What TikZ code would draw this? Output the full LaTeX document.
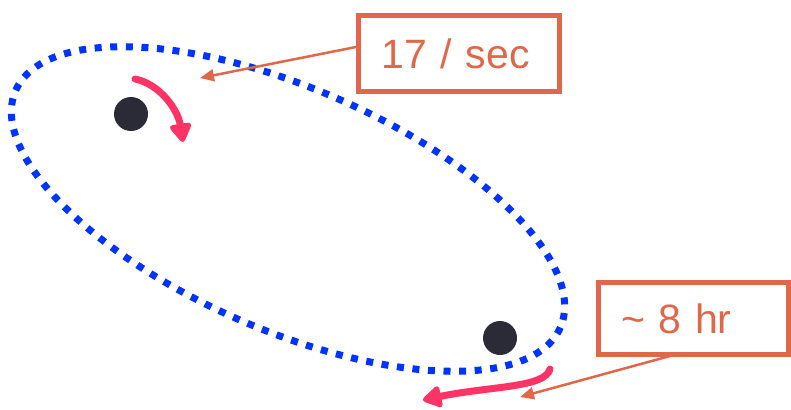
\documentclass[tikz,border=0pt]{standalone}
\usepackage{fontspec}
\setmainfont{Liberation Sans}
\usetikzlibrary{arrows.meta}
\definecolor{orbitblue}{HTML}{0033FF}
\definecolor{spinpink}{HTML}{FF3366}
\definecolor{notered}{HTML}{E0684A}
\definecolor{bodydark}{HTML}{2A2B36}
\tikzset{
  orbit/.style={orbitblue, line width=7pt, dash pattern=on 7pt off 8.6pt},
  body/.style={circle, fill=bodydark, minimum size=34pt, inner sep=0pt},
  spin/.style={spinpink, line width=7pt, line cap=round,
    -{Triangle[width=24pt,length=21pt,round]}},
  notebox/.style={draw=notered, line width=5pt, text=notered, inner ysep=0pt,
    align=left, font=\fontsize{41}{41}\selectfont},
  pointer/.style={notered, line width=2.5pt,
    -{Triangle[width=12pt,length=14pt]}}
}
\begin{document}
\begin{tikzpicture}[x=1pt,y=-1pt]
  \useasboundingbox (0,0) rectangle (791,409);
  % orbit
  \draw[orbit] (288,209) ellipse[x radius=297, y radius=121, rotate=-23.5];
  % the two bodies
  \node[body] (b1) at (131,114) {};
  \node[body] (b2) at (500,338) {};
  % spin arrows
  \coordinate (s1a) at (135,79);
  \coordinate (s1b) at (183,142);
  \draw[spin] (s1a) .. controls (160,84) and (178,110) .. (s1b);
  \coordinate (s2a) at (550,369);
  \coordinate (s2b) at (423,400);
  \draw[spin] (s2a) .. controls (545,388) and (490,386) .. (s2b);
  % labels
  \node[notebox, inner xsep=23pt, text width=155pt, minimum height=76pt] (n1) at (459,53.5) {17 / sec};
  \node[notebox, inner xsep=23pt, text width=144pt, minimum height=72pt] (n2) at (693,318.5) {\textasciitilde\ 8 hr};
  \coordinate (t1) at (200,78);
  \coordinate (t2) at (520,397);
  \draw[pointer] (n1.west |- 0,47) -- (t1);
  \draw[pointer] (670,356) -- (t2);
\end{tikzpicture}
\end{document}
